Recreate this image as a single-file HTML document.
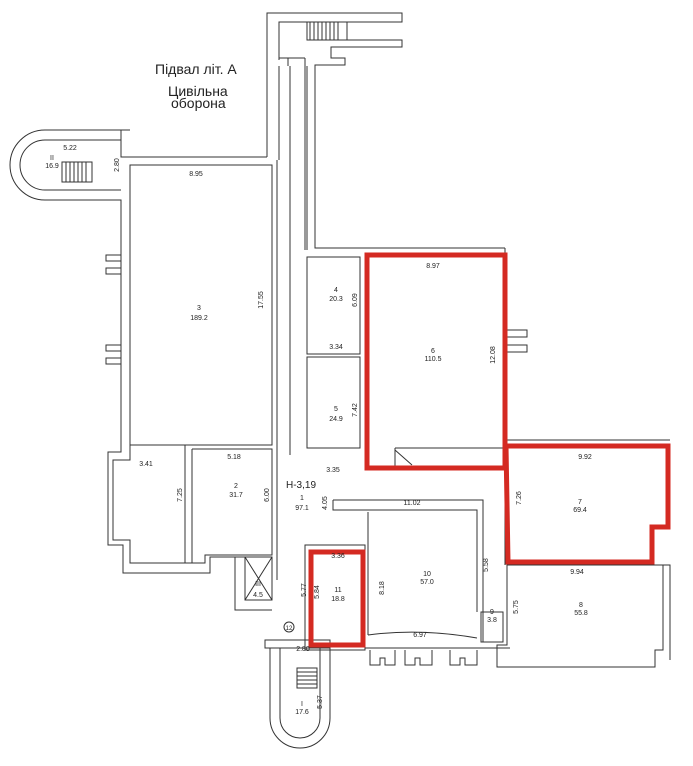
<!DOCTYPE html>
<html><head><meta charset="utf-8"><style>
body{margin:0;background:#fff;}
svg{display:block}
text{font-family:"Liberation Sans",sans-serif;fill:#222}
.s{font-size:7px}
</style></head><body>
<svg width="693" height="766" viewBox="0 0 693 766" xmlns="http://www.w3.org/2000/svg">
<g fill="none" stroke="#333" stroke-width="1">
<path d="M267 157 V13 H402 V22 H279 V60"/>
<path d="M331 40 H402 V47 H331 V58 H345 V65 H315 V248 H505"/>
<rect x="307" y="22" width="40" height="18"/>
<path d="M310 22 V40 M314 22 V40 M318 22 V40 M322 22 V40 M326 22 V40 M330 22 V40 M334 22 V40 M338 22 V40"/>
<path d="M288 58 H305 M288 58 V66 M305 58 V66 M279 58 H290"/>
<path d="M279 66 V160 M290 66 V455 M305 66 V250 M307 66 V250"/>
<path d="M130 130 H45 A35 35 0 0 0 45 200 H121 V445"/>
<path d="M121 140 H45 A25 25 0 0 0 45 190 H121"/>
<path d="M121 130 V157 H267"/>
<rect x="62" y="162" width="30" height="20"/>
<path d="M66 162V182M70 162V182M74 162V182M78 162V182M82 162V182M86 162V182"/>
<rect x="130" y="165" width="142" height="280"/>
<path d="M277 160 V450"/>
<rect x="106" y="255" width="15" height="6"/><rect x="106" y="268" width="15" height="6"/>
<rect x="106" y="345" width="15" height="6"/><rect x="106" y="358" width="15" height="6"/>
<path d="M121 445 V452 H108 V545 H123 V573 H210 V557 H245"/>
<path d="M130 445 V460 H113 V540 H130 V563 H192"/>
<path d="M185 445 V563 M192 449 V563 H205 V555 H272 V449 H192"/>
<path d="M277 449 V580"/>
<rect x="245" y="557" width="27" height="43"/>
<path d="M245 557 L272 600 M272 557 L245 600"/>
<path d="M235 557 V610 H272"/>
<rect x="307" y="257" width="53" height="97"/>
<rect x="307" y="357" width="53" height="91"/>
<rect x="367" y="254" width="138" height="214"/>
<path d="M395 448 H505 M395 448 V468 M395 450 L412 465"/>
<path d="M505 248 V330 H527 V337 H505 M505 345 H527 V352 H505"/>
<path d="M505 440 H670 M505 468 V565"/>
<path d="M507 565 H663 V650 H655 V667 H497 V645 H507 Z"/>
<path d="M507 565 H670 V660"/>
<path d="M333 500 H483 V642 M340 510 H477 V612 M368 512 V635"/>
<path d="M368 635 Q420 628 477 638"/>
<path d="M333 500 V510 H368"/>
<rect x="481" y="612" width="22" height="30"/>
<rect x="305" y="545" width="60" height="105"/>
<path d="M365 648 H510"/>
<path d="M370 650 V665 H380 V658 H385 V665 H395 V650"/>
<path d="M405 650 V665 H415 V658 H420 V665 H432 V650"/>
<path d="M450 650 V665 H460 V658 H465 V665 H477 V650"/>
<path d="M265 640 H330 V648 H265 Z"/>
<path d="M270 648 V718 A30 30 0 0 0 330 718 V648"/>
<path d="M280 648 V718 A20 20 0 0 0 320 718 V648"/>
<rect x="297" y="668" width="20" height="20"/>
<path d="M297 672H317M297 676H317M297 680H317M297 684H317"/>
<circle cx="289" cy="627" r="5"/>
</g>
<g fill="none" stroke="#d42a22" stroke-width="5">
<rect x="367" y="255" width="138" height="213"/>
<path d="M506 446 H668 V527 H652 V562 H508 Z"/>
<rect x="311" y="552" width="52" height="93"/>
</g>
<text x="155" y="74" font-size="14">Підвал літ. А</text>
<text x="168" y="96" font-size="14">Цивільна</text>
<text x="171" y="108" font-size="14">оборона</text>
<text x="286" y="488" font-size="10">Н-3,19</text>
<g class="s" text-anchor="middle">
<text x="70" y="150">5.22</text>
<text x="52" y="160">II</text><text x="52" y="168">16.9</text>
<text x="196" y="176">8.95</text>
<text x="199" y="310">3</text><text x="199" y="320">189.2</text>
<text x="146" y="466">3.41</text>
<text x="234" y="459">5.18</text>
<text x="236" y="488">2</text><text x="236" y="497">31.7</text>
<text x="302" y="500">1</text><text x="302" y="510">97.1</text>
<text x="336" y="292">4</text><text x="336" y="301">20.3</text>
<text x="336" y="349">3.34</text>
<text x="336" y="411">5</text><text x="336" y="421">24.9</text>
<text x="333" y="472">3.35</text>
<text x="433" y="268">8.97</text>
<text x="433" y="353">6</text><text x="433" y="361">110.5</text>
<text x="585" y="459">9.92</text>
<text x="580" y="504">7</text><text x="580" y="512">69.4</text>
<text x="577" y="574">9.94</text>
<text x="581" y="607">8</text><text x="581" y="615">55.8</text>
<text x="412" y="505">11.02</text>
<text x="427" y="576">10</text><text x="427" y="584">57.0</text>
<text x="420" y="637">6.97</text>
<text x="338" y="558">3.36</text>
<text x="338" y="592">11</text><text x="338" y="601">18.8</text>
<text x="258" y="586">III</text><text x="258" y="597">4.5</text>
<text x="492" y="614">9</text><text x="492" y="622">3.8</text>
<text x="303" y="651">2.80</text>
<text x="302" y="706">I</text><text x="302" y="714">17.6</text>
<text x="289" y="630" font-size="6">12</text>
</g>
<g class="s" text-anchor="middle">
<text transform="translate(119,165) rotate(-90)">2.80</text>
<text transform="translate(263,300) rotate(-90)">17.55</text>
<text transform="translate(357,300) rotate(-90)">6.09</text>
<text transform="translate(357,410) rotate(-90)">7.42</text>
<text transform="translate(495,355) rotate(-90)">12.08</text>
<text transform="translate(182,495) rotate(-90)">7.25</text>
<text transform="translate(269,495) rotate(-90)">6.00</text>
<text transform="translate(327,503) rotate(-90)">4.05</text>
<text transform="translate(521,498) rotate(-90)">7.26</text>
<text transform="translate(306,590) rotate(-90)">5.77</text>
<text transform="translate(319,592) rotate(-90)">5.84</text>
<text transform="translate(384,588) rotate(-90)">8.18</text>
<text transform="translate(488,565) rotate(-90)">5.58</text>
<text transform="translate(518,607) rotate(-90)">5.75</text>
<text transform="translate(322,702) rotate(-90)">5.37</text>
</g>
</svg>
</body></html>
